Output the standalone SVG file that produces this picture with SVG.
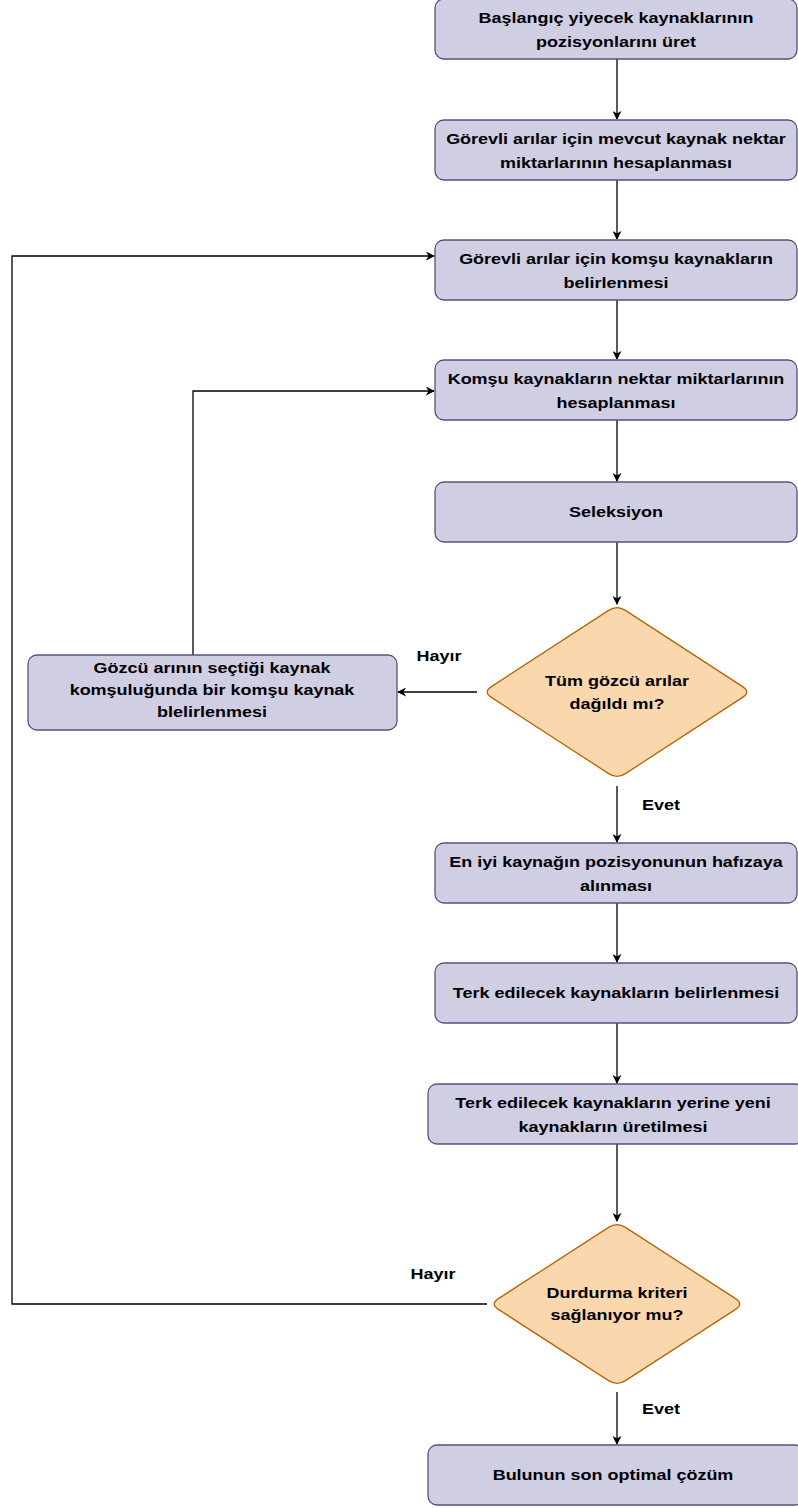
<svg xmlns="http://www.w3.org/2000/svg" width="798" height="1508" viewBox="0 0 798 1508">
<style>
.box{fill:#d0cee2;stroke:#56517e;stroke-width:1.3}
.dia{fill:#fad7ac;stroke:#b46504;stroke-width:1.3}
.t{font-family:"Liberation Sans",Arial,sans-serif;font-weight:bold;font-size:15px;fill:#000;text-anchor:middle}
.c{fill:none;stroke:#000;stroke-width:1.3}
</style>
<defs>
<marker id="ar" viewBox="0 0 10 10" refX="9" refY="5" markerWidth="9" markerHeight="9" markerUnits="userSpaceOnUse" orient="auto">
<path d="M0,0 L10,5 L0,10 L3,5 z" fill="#000"/>
</marker>
</defs>
<rect width="798" height="1508" fill="#fff"/>
<g id="connectors">
<path class="c" d="M617,59 V119" marker-end="url(#ar)"/>
<path class="c" d="M617,180 V239" marker-end="url(#ar)"/>
<path class="c" d="M617,300 V359" marker-end="url(#ar)"/>
<path class="c" d="M617,420 V481" marker-end="url(#ar)"/>
<path class="c" d="M617,542 V604" marker-end="url(#ar)"/>
<path class="c" d="M477,692 H398" marker-end="url(#ar)"/>
<path class="c" d="M193,655 V391 H434" marker-end="url(#ar)"/>
<path class="c" d="M617,786 V842" marker-end="url(#ar)"/>
<path class="c" d="M617,903 V962" marker-end="url(#ar)"/>
<path class="c" d="M617,1023 V1083" marker-end="url(#ar)"/>
<path class="c" d="M617,1144 V1221" marker-end="url(#ar)"/>
<path class="c" d="M487,1304 H12 V256 H434" marker-end="url(#ar)"/>
<path class="c" d="M617,1392 V1444" marker-end="url(#ar)"/>
<g transform="translate(439 0) scale(1.2 1)"><text class="t" x="0" y="661">Hayır</text></g>
<g transform="translate(661 0) scale(1.2 1)"><text class="t" x="0" y="810">Evet</text></g>
<g transform="translate(433 0) scale(1.2 1)"><text class="t" x="0" y="1279">Hayır</text></g>
<g transform="translate(661 0) scale(1.2 1)"><text class="t" x="0" y="1414">Evet</text></g>
</g>
<g id="n1"><rect class="box" x="435" y="-1" width="362" height="60" rx="9"/>
<g transform="translate(616 0) scale(1.2 1)"><text class="t" x="0" y="23">Başlangıç yiyecek kaynaklarının</text><text class="t" x="0" y="47">pozisyonlarını üret</text></g></g>
<g id="n2"><rect class="box" x="435" y="120" width="362" height="60" rx="9"/>
<g transform="translate(616 0) scale(1.2 1)"><text class="t" x="0" y="144">Görevli arılar için mevcut kaynak nektar</text><text class="t" x="0" y="168">miktarlarının hesaplanması</text></g></g>
<g id="n3"><rect class="box" x="435" y="240" width="362" height="60" rx="9"/>
<g transform="translate(616 0) scale(1.2 1)"><text class="t" x="0" y="264">Görevli arılar için komşu kaynakların</text><text class="t" x="0" y="288">belirlenmesi</text></g></g>
<g id="n4"><rect class="box" x="435" y="360" width="362" height="60" rx="9"/>
<g transform="translate(616 0) scale(1.2 1)"><text class="t" x="0" y="384">Komşu kaynakların nektar miktarlarının</text><text class="t" x="0" y="408">hesaplanması</text></g></g>
<g id="n5"><rect class="box" x="435" y="482" width="362" height="60" rx="9"/>
<g transform="translate(616 0) scale(1.2 1)"><text class="t" x="0" y="517">Seleksiyon</text></g></g>
<g id="d1"><path class="dia" d="M608.6,610.4 Q617,605 625.4,610.4 L742.6,686.6 Q751,692 742.6,697.4 L625.4,773.6 Q617,779 608.6,773.6 L491.4,697.4 Q483,692 491.4,686.6 Z"/>
<g transform="translate(617 0) scale(1.2 1)"><text class="t" x="0" y="686">Tüm gözcü arılar</text><text class="t" x="0" y="709">dağıldı mı?</text></g></g>
<g id="nl"><rect class="box" x="28" y="655" width="369" height="75" rx="9"/>
<g transform="translate(212 0) scale(1.2 1)"><text class="t" x="0" y="673">Gözcü arının seçtiği kaynak</text><text class="t" x="0" y="695">komşuluğunda bir komşu kaynak</text><text class="t" x="0" y="717">blelirlenmesi</text></g></g>
<g id="n6"><rect class="box" x="435" y="843" width="362" height="60" rx="9"/>
<g transform="translate(616 0) scale(1.2 1)"><text class="t" x="0" y="867">En iyi kaynağın pozisyonunun hafızaya</text><text class="t" x="0" y="891">alınması</text></g></g>
<g id="n7"><rect class="box" x="435" y="963" width="362" height="60" rx="9"/>
<g transform="translate(616 0) scale(1.2 1)"><text class="t" x="0" y="998">Terk edilecek kaynakların belirlenmesi</text></g></g>
<g id="n8"><rect class="box" x="428" y="1084" width="376" height="60" rx="9"/>
<g transform="translate(613 0) scale(1.2 1)"><text class="t" x="0" y="1108">Terk edilecek kaynakların yerine yeni</text><text class="t" x="0" y="1132">kaynakların üretilmesi</text></g></g>
<g id="d2"><path class="dia" d="M608.6,1227.4 Q617,1222 625.4,1227.4 L735.6,1298.6 Q744,1304 735.6,1309.4 L625.4,1380.6 Q617,1386 608.6,1380.6 L498.4,1309.4 Q490,1304 498.4,1298.6 Z"/>
<g transform="translate(617 0) scale(1.2 1)"><text class="t" x="0" y="1298">Durdurma kriteri</text><text class="t" x="0" y="1320">sağlanıyor mu?</text></g></g>
<g id="n9"><rect class="box" x="428" y="1445" width="376" height="60" rx="9"/>
<g transform="translate(613 0) scale(1.2 1)"><text class="t" x="0" y="1480">Bulunun son optimal çözüm</text></g></g>
</svg>
